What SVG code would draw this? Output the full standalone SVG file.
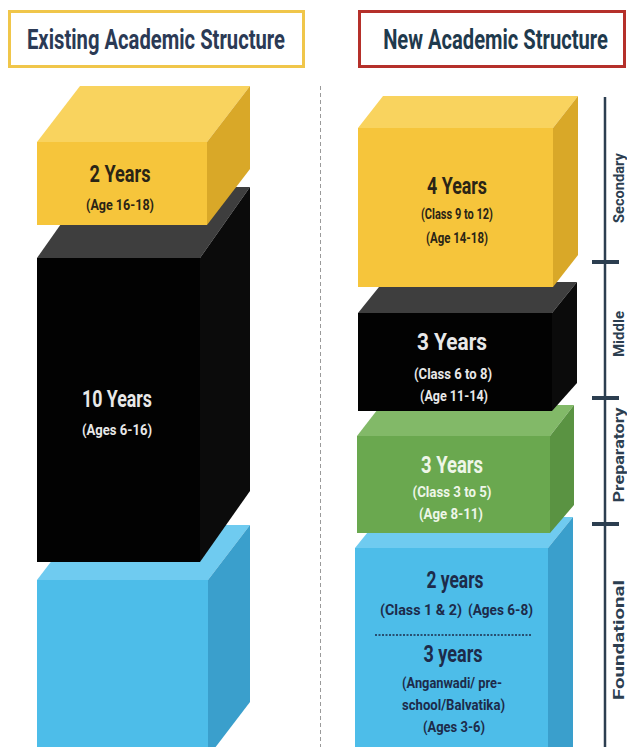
<svg xmlns="http://www.w3.org/2000/svg" width="627" height="747" viewBox="0 0 627 747">
<style>
  .title{font-family:Roboto,"Liberation Sans",sans-serif;font-weight:700;font-size:28px;text-anchor:middle}
  .big{font-family:Roboto,"Liberation Sans",sans-serif;font-weight:700;font-size:24px;text-anchor:middle}
  .sm{font-family:Roboto,"Liberation Sans",sans-serif;font-weight:700;font-size:15px;text-anchor:middle}
  .lbl{font-family:Roboto,"Liberation Sans",sans-serif;font-weight:700;font-size:14px;text-anchor:middle;fill:#2c3e50}
  .dk{fill:#2a2416}
  .wh{fill:#e8e8e8}
  .gr{fill:#eef6e8}
  .bl{fill:#1d2b4a}
  .yf{fill:#f6c53b}.yt{fill:#f9d35e}.ys{fill:#d9a828}
  .kf{fill:#020202}.kt{fill:#3e3e3e}.ks{fill:#0b0b0b}
  .gf{fill:#6aa84f}.gt{fill:#82b968}.gs{fill:#5a9342}
  .bf{fill:#4dbde9}.bt{fill:#6fcbf0}.bs{fill:#3a9fcc}
</style>
<rect width="627" height="747" fill="#ffffff"/>

<g id="title-existing">
  <rect x="9.5" y="11.5" width="294" height="55" fill="#ffffff" stroke="#f0c64a" stroke-width="3"/>
  <text class="title" x="156" y="49" fill="#2b3a55" textLength="258" lengthAdjust="spacingAndGlyphs">Existing Academic Structure</text>
</g>
<g id="title-new">
  <rect x="359.5" y="11.5" width="265" height="55" fill="#ffffff" stroke="#b5302a" stroke-width="3"/>
  <text class="title" transform="translate(495.5,49) scale(0.72,1)" fill="#1f3a4d">New Academic Structure</text>
</g>

<g id="connectors">
  <line x1="320.5" y1="86" x2="320.5" y2="747" stroke="#9a9a9a" stroke-width="1" stroke-dasharray="4 3"/>
  <line x1="605" y1="97" x2="605" y2="747" stroke="#2c3e50" stroke-width="2.5"/>
  <line x1="592" y1="262" x2="619" y2="262" stroke="#2c3e50" stroke-width="4"/>
  <line x1="592" y1="398" x2="619" y2="398" stroke="#2c3e50" stroke-width="4"/>
  <line x1="592" y1="524" x2="619" y2="524" stroke="#2c3e50" stroke-width="4"/>
</g>

<!-- Left column -->
<g id="left-blue">
  <polygon class="bt" points="37,580 79,525 250,525 208,580"/>
  <polygon class="bs" points="208,580 250,525 250,702 208,757"/>
  <rect class="bf" x="37" y="580" width="171" height="180"/>
</g>
<g id="left-black">
  <polygon class="kt" points="37,258 87,187 250,187 200,258"/>
  <polygon class="ks" points="200,258 250,187 250,491 200,562"/>
  <rect class="kf" x="37" y="258" width="163" height="304"/>
  <text class="big wh" x="117" y="407" textLength="70" lengthAdjust="spacingAndGlyphs">10 Years</text>
  <text class="sm wh" x="117" y="435" textLength="70" lengthAdjust="spacingAndGlyphs">(Ages 6-16)</text>
</g>
<g id="left-yellow">
  <polygon class="yt" points="37,142 80,86 250,86 207,142"/>
  <polygon class="ys" points="207,142 250,86 250,169 207,225"/>
  <rect class="yf" x="37" y="142" width="170" height="83"/>
  <text class="big dk" x="120" y="182" textLength="61" lengthAdjust="spacingAndGlyphs">2 Years</text>
  <text class="sm dk" x="120" y="210" textLength="68" lengthAdjust="spacingAndGlyphs">(Age 16-18)</text>
</g>

<!-- Right column -->
<g id="right-blue">
  <polygon class="bt" points="355,548 380,517 573,517 548,548"/>
  <polygon class="bs" points="548,548 573,517 573,747 548,760"/>
  <rect class="bf" x="355" y="548" width="193" height="210"/>
  <text class="big bl" x="455" y="588" textLength="57" lengthAdjust="spacingAndGlyphs">2 years</text>
  <text class="sm bl" x="421" y="615" textLength="82" lengthAdjust="spacingAndGlyphs">(Class 1 &amp; 2)</text>
  <text class="sm bl" x="500.5" y="615" textLength="65" lengthAdjust="spacingAndGlyphs">(Ages 6-8)</text>
  <line x1="375" y1="635" x2="532" y2="635" stroke="#1d2b4a" stroke-width="1.5" stroke-dasharray="2 1.5"/>
  <text class="big bl" x="453" y="662" textLength="59" lengthAdjust="spacingAndGlyphs">3 years</text>
  <text class="sm bl" x="452" y="688" textLength="100" lengthAdjust="spacingAndGlyphs">(Anganwadi/ pre-</text>
  <text class="sm bl" x="453.5" y="710" textLength="103" lengthAdjust="spacingAndGlyphs">school/Balvatika)</text>
  <text class="sm bl" x="454" y="732" textLength="62" lengthAdjust="spacingAndGlyphs">(Ages 3-6)</text>
</g>
<g id="right-green">
  <polygon class="gt" points="357,436 381,405 574,405 550,436"/>
  <polygon class="gs" points="550,436 574,405 574,505 550,533"/>
  <rect class="gf" x="357" y="436" width="193" height="97"/>
  <text class="big gr" x="452" y="473" textLength="62" lengthAdjust="spacingAndGlyphs">3 Years</text>
  <text class="sm gr" x="452" y="497" textLength="79" lengthAdjust="spacingAndGlyphs">(Class 3 to 5)</text>
  <text class="sm gr" x="451" y="519" textLength="64" lengthAdjust="spacingAndGlyphs">(Age 8-11)</text>
</g>
<g id="right-black">
  <polygon class="kt" points="358,313 383,282 577,282 552,313"/>
  <polygon class="ks" points="552,313 577,282 577,383 552,411"/>
  <rect class="kf" x="358" y="313" width="194" height="98"/>
  <text class="big wh" x="452" y="350" textLength="70" lengthAdjust="spacingAndGlyphs">3 Years</text>
  <text class="sm wh" x="453" y="379" textLength="78" lengthAdjust="spacingAndGlyphs">(Class 6 to 8)</text>
  <text class="sm wh" x="454" y="401" textLength="68" lengthAdjust="spacingAndGlyphs">(Age 11-14)</text>
</g>
<g id="right-yellow">
  <polygon class="yt" points="358,128 383,96 578,96 553,128"/>
  <polygon class="ys" points="553,128 578,96 578,255 553,287"/>
  <rect class="yf" x="358" y="128" width="195" height="159"/>
  <text class="big dk" x="457" y="194" textLength="60" lengthAdjust="spacingAndGlyphs">4 Years</text>
  <text class="sm dk" x="457" y="219" textLength="72" lengthAdjust="spacingAndGlyphs">(Class 9 to 12)</text>
  <text class="sm dk" x="457" y="243" textLength="62" lengthAdjust="spacingAndGlyphs">(Age 14-18)</text>
</g>

<g id="scale-labels">
  <text class="lbl" transform="translate(624,188) rotate(-90)" textLength="70" lengthAdjust="spacingAndGlyphs">Secondary</text>
  <text class="lbl" transform="translate(624,334) rotate(-90)" textLength="46" lengthAdjust="spacingAndGlyphs">Middle</text>
  <text class="lbl" transform="translate(624,455) rotate(-90)" textLength="95" lengthAdjust="spacingAndGlyphs">Preparatory</text>
  <text class="lbl" transform="translate(624,640) rotate(-90)" textLength="120" lengthAdjust="spacingAndGlyphs">Foundational</text>
</g>
</svg>
